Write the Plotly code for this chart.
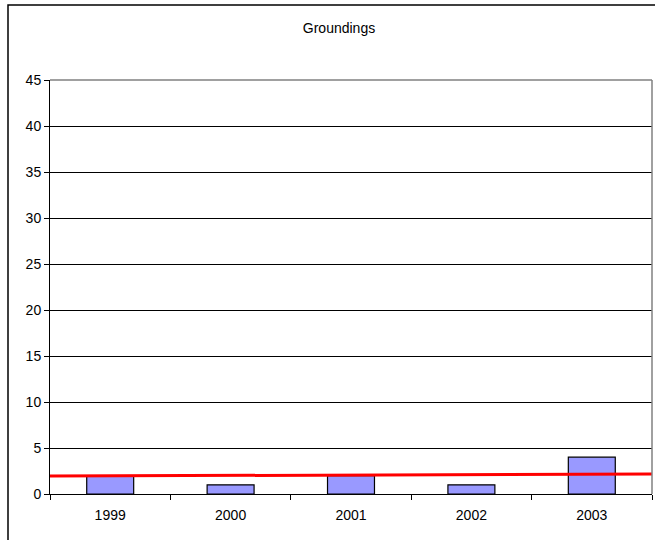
import plotly.graph_objects as go

# Annual grounding counts
years = ["1999", "2000", "2001", "2002", "2003"]
groundings = [2, 1, 2, 1, 4]

# Trend line level at the left and right edges of the plot
trend_x = [0, 1]
trend_y = [1.95, 2.17]

y_ticks = [0, 5, 10, 15, 20, 25, 30, 35, 40, 45]

FONT = "Liberation Sans, Arial, sans-serif"

fig = go.Figure()

fig.add_trace(go.Bar(
    x=years,
    y=groundings,
    width=0.39,
    marker=dict(color="#9999FF", line=dict(color="black", width=1.2)),
    showlegend=False,
    hoverinfo="x+y",
))

fig.add_trace(go.Scatter(
    x=trend_x,
    y=trend_y,
    xaxis="x2",
    mode="lines",
    line=dict(color="#FF0000", width=3),
    showlegend=False,
    hoverinfo="skip",
))

fig.update_layout(
    width=655,
    height=540,
    margin=dict(l=50, r=3, t=80, b=46),
    paper_bgcolor="white",
    plot_bgcolor="white",
    font=dict(family=FONT, size=14, color="black"),
    title=dict(
        text="Groundings",
        x=(339 - 50) / 602,
        xref="paper",
        xanchor="center",
        y=1 - 28 / 540,
        yref="container",
        yanchor="middle",
        font=dict(family=FONT, size=14, color="black"),
    ),
    xaxis=dict(
        type="category",
        showgrid=False,
        showline=True,
        linecolor="black",
        linewidth=1,
        ticks="outside",
        tickson="boundaries",
        ticklen=5,
        tickcolor="black",
        tickfont=dict(size=14),
        ticklabelstandoff=8,
        zeroline=False,
    ),
    xaxis2=dict(
        overlaying="x",
        range=[0, 1],
        visible=False,
        fixedrange=True,
    ),
    yaxis=dict(
        range=[0, 45],
        tickvals=y_ticks,
        showgrid=True,
        gridcolor="black",
        gridwidth=1,
        showline=True,
        linecolor="black",
        linewidth=1,
        ticks="outside",
        ticklen=5,
        tickcolor="black",
        tickfont=dict(size=14),
        zeroline=False,
    ),
    bargap=0.61,
    shapes=[
        # plot area frame: gray top and right edges
        dict(type="line", xref="paper", yref="paper", x0=0, x1=1, y0=1, y1=1,
             line=dict(color="#808080", width=1.5), layer="above"),
        dict(type="line", xref="paper", yref="paper", x0=1, x1=1, y0=0, y1=1,
             line=dict(color="#808080", width=1.5), layer="above"),
        # outer chart border
        dict(type="rect", xref="paper", yref="paper",
             x0=(8 - 50) / 602, x1=2.0,
             y0=-0.5, y1=(494 - 5) / 414,
             line=dict(color="black", width=1.5), layer="below"),
    ],
)

fig.write_html("out.html")
